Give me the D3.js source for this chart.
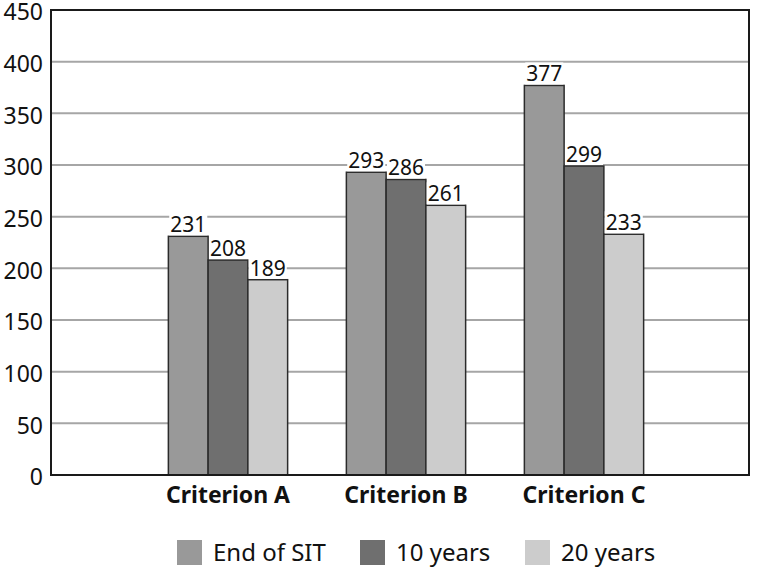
<!DOCTYPE html>
<html>
<head>
<meta charset="utf-8">
<script src="https://cdn.jsdelivr.net/npm/d3@7"></script>
<style>
    body { margin: 0; background: #ffffff; }
    svg { display: block; font-family: "Noto Sans", sans-serif; }
</style>
</head>
<body>
<div class="chart"></div>
<script>
"use strict";

// Chart data
var categories = ["Criterion A", "Criterion B", "Criterion C"];
var seriesNames = ["End of SIT", "10 years", "20 years"];
var endOfSit = [231, 293, 377];
var tenYears = [208, 286, 299];
var twentyYears = [189, 261, 233];
var yTicks = [0, 50, 100, 150, 200, 250, 300, 350, 400, 450];

var seriesValues = [endOfSit, tenYears, twentyYears];
var colors = ["#999999", "#6f6f6f", "#cccccc"];

var width = 764;
var height = 567;
var margin = { top: 10, right: 15, bottom: 92, left: 51 };
var innerW = width - margin.left - margin.right;
var innerH = height - margin.top - margin.bottom;

var svg = d3.select(".chart").append("svg")
    .attr("width", width)
    .attr("height", height);

var g = svg.append("g")
    .attr("transform", "translate(" + margin.left + "," + margin.top + ")");

// Scales
var x = d3.scaleBand()
    .domain(categories)
    .range([88, 622])
    .paddingInner(0.33)
    .paddingOuter(0.165);

var xSub = d3.scaleBand()
    .domain(seriesNames)
    .range([0, x.bandwidth()]);

var y = d3.scaleLinear()
    .domain([0, 450])
    .range([innerH, 0]);

// Gridlines
g.selectAll("line.grid")
    .data(yTicks.filter(function (d) { return d > 0 && d < 450; }))
    .enter().append("line")
    .attr("class", "grid")
    .attr("x1", 0)
    .attr("x2", innerW)
    .attr("y1", function (d) { return y(d); })
    .attr("y2", function (d) { return y(d); })
    .style("stroke", "#a6a6a6")
    .style("stroke-width", 2);

// Y axis labels
var yAxis = g.append("g")
    .call(d3.axisLeft(y).tickValues(yTicks).tickSize(0).tickPadding(8));
yAxis.select(".domain").remove();
yAxis.selectAll("text")
    .attr("dy", "0.42em")
    .style("font-family", "Noto Sans, sans-serif")
    .style("font-size", "23px")
    .style("fill", "#111111");

// Bars
var groups = g.selectAll("g.cat")
    .data(categories)
    .enter().append("g")
    .attr("class", "cat")
    .attr("transform", function (d) { return "translate(" + x(d) + ",0)"; });

groups.selectAll("rect")
    .data(function (d, i) {
        return seriesNames.map(function (s, j) {
            return { series: s, value: seriesValues[j][i], color: colors[j] };
        });
    })
    .enter().append("rect")
    .attr("x", function (d) { return xSub(d.series); })
    .attr("y", function (d) { return y(d.value); })
    .attr("width", xSub.bandwidth())
    .attr("height", function (d) { return innerH - y(d.value); })
    .style("fill", function (d) { return d.color; })
    .style("stroke", "#2b2b2b")
    .style("stroke-width", 1.5);

// Value labels with white background
groups.each(function (cat, i) {
    var grp = d3.select(this);
    seriesNames.forEach(function (s, j) {
        var v = seriesValues[j][i];
        var cx = xSub(s) + xSub.bandwidth() / 2;
        var t = grp.append("text")
            .attr("x", cx)
            .attr("y", y(v) - 4)
            .attr("text-anchor", "middle")
            .style("font-size", "21px")
            .style("fill", "#111111")
            .text(v);
        var bb = t.node().getBBox();
        grp.insert("rect", "text")
            .attr("x", bb.x - 1)
            .attr("y", bb.y + 3)
            .attr("width", bb.width + 2)
            .attr("height", bb.height - 6)
            .style("fill", "#ffffff");
    });
});

// Frame
g.append("rect")
    .attr("x", 0)
    .attr("y", 0)
    .attr("width", innerW)
    .attr("height", innerH)
    .style("fill", "none")
    .style("stroke", "#1a1a1a")
    .style("stroke-width", 2);

// Category labels
g.selectAll("text.cat")
    .data(categories)
    .enter().append("text")
    .attr("class", "cat")
    .attr("x", function (d) { return x(d) + x.bandwidth() / 2; })
    .attr("y", innerH + 28)
    .attr("text-anchor", "middle")
    .style("font-size", "23px")
    .style("font-weight", "bold")
    .style("fill", "#111111")
    .text(function (d) { return d; });

// Legend
var legendX = [177, 360, 525];
var legend = svg.selectAll("g.legend")
    .data(seriesNames)
    .enter().append("g")
    .attr("class", "legend")
    .attr("transform", function (d, i) { return "translate(" + legendX[i] + ",540)"; });

legend.append("rect")
    .attr("width", 25)
    .attr("height", 25)
    .style("fill", function (d, i) { return colors[i]; });

legend.append("text")
    .attr("x", 36)
    .attr("y", 21)
    .style("font-size", "24px")
    .style("fill", "#111111")
    .text(function (d) { return d; });
</script>
</body>
</html>
